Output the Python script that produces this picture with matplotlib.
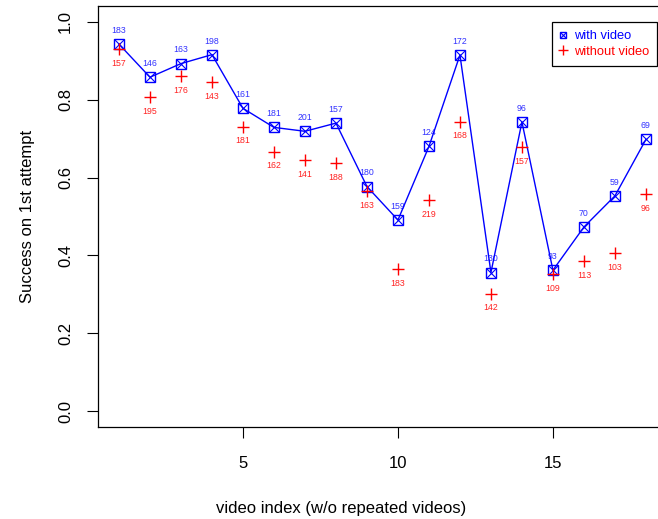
import matplotlib
matplotlib.use("Agg")
import matplotlib.pyplot as plt
from matplotlib.lines import Line2D

plt.rcParams['font.family'] = ['Liberation Sans', 'DejaVu Sans']

video_index = list(range(1, 19))
with_video = [0.943, 0.858, 0.893, 0.916, 0.778, 0.729, 0.719, 0.740, 0.577,
              0.491, 0.680, 0.915, 0.356, 0.743, 0.362, 0.473, 0.553, 0.698]
without_video = [0.930, 0.806, 0.860, 0.845, 0.731, 0.667, 0.644, 0.637, 0.566,
                 0.365, 0.542, 0.744, 0.302, 0.678, 0.352, 0.386, 0.405, 0.557]
with_n = [183, 146, 163, 198, 161, 181, 201, 157, 180,
          159, 124, 172, 130, 96, 93, 70, 59, 69]
without_n = [157, 195, 176, 143, 181, 162, 141, 188, 163,
             183, 219, 168, 142, 157, 109, 113, 103, 96]
x_ticks = [5, 10, 15]
y_ticks = [0.0, 0.2, 0.4, 0.6, 0.8, 1.0]
y_tick_labels = ["0.0", "0.2", "0.4", "0.6", "0.8", "1.0"]

W, H = 658, 519
fig = plt.figure(figsize=(W / 100, H / 100), dpi=100)
left_px, right_px, top_px, bottom_px = 97.9, 667.0, 6.4, 426.6
ax = fig.add_axes([left_px / W, (H - bottom_px) / H,
                   (right_px - left_px) / W, (bottom_px - top_px) / H])

BLUE = "#0000ff"
RED = "#ff0000"

# with-video series: connected line with boxed-x markers
ax.plot(video_index, with_video, color=BLUE, lw=1.0, zorder=3)
ax.plot(video_index, with_video, ls="none", marker="s", ms=7.2,
        mfc="none", mec=BLUE, mew=1.0, zorder=4)
ax.plot(video_index, with_video, ls="none", marker="x", ms=7.2,
        mec=BLUE, mew=0.8, zorder=4)

# without-video series: plus markers
ax.plot(video_index, without_video, ls="none", marker="+", ms=8.6,
        mec=RED, mew=1.0, zorder=5)

for xi, yi, n in zip(video_index, with_video, with_n):
    ax.annotate(str(n), (xi, yi), xytext=(0, 9.8), textcoords="offset points",
                ha="center", va="center", fontsize=6.3, color="#3333ff", zorder=2)
for xi, yi, n in zip(video_index, without_video, without_n):
    ax.annotate(str(n), (xi, yi), xytext=(0, -10.3), textcoords="offset points",
                ha="center", va="center", fontsize=6.3, color="#ff2222", zorder=2)

ax.set_xlim(0.32, 18.68)
ax.set_ylim(-0.04, 1.04)
ax.set_xticks(x_ticks)
ax.set_xticklabels([str(t) for t in x_ticks])
ax.set_yticks(y_ticks)
ax.set_yticklabels(y_tick_labels, rotation=90, va="center")

for sp in ax.spines.values():
    sp.set_color("black")
    sp.set_linewidth(0.9)

ax.tick_params(axis="both", direction="out", length=8, width=0.8,
               labelsize=12, color="black")
ax.tick_params(axis="x", pad=13.5)
ax.tick_params(axis="y", pad=10)

ax.set_xlabel("video index (w/o repeated videos)", fontsize=12)
ax.set_ylabel("Success on 1st attempt", fontsize=12)
ax.xaxis.set_label_coords(((W / 2) - left_px + 12) / (right_px - left_px),
                          -(508.5 - bottom_px) / (bottom_px - top_px))
ax.xaxis.label.set_va("center")
ax.yaxis.set_label_coords(-(left_px - 28) / (right_px - left_px), 0.5)
ax.yaxis.label.set_va("center")

h_with = (Line2D([], [], ls="none", marker="s", ms=4.6, mfc="none", mec=BLUE, mew=1.0),
          Line2D([], [], ls="none", marker="x", ms=4.6, mec=BLUE, mew=0.8))
h_without = Line2D([], [], ls="none", marker="+", ms=7, mec=RED, mew=1.0)
leg = fig.legend([h_with, h_without], ["with video", "without video"],
                 loc="upper right", bbox_to_anchor=(657 / W, 1 - 22 / H),
                 fontsize=9.3, frameon=True, fancybox=False, framealpha=1,
                 edgecolor="black", borderpad=0.62, labelspacing=0.3,
                 handlelength=0.5, handletextpad=0.55, borderaxespad=0)
leg.get_frame().set_linewidth(0.9)
for txt, c in zip(leg.get_texts(), [BLUE, RED]):
    txt.set_color(c)

fig.savefig("out.png", dpi=100)
